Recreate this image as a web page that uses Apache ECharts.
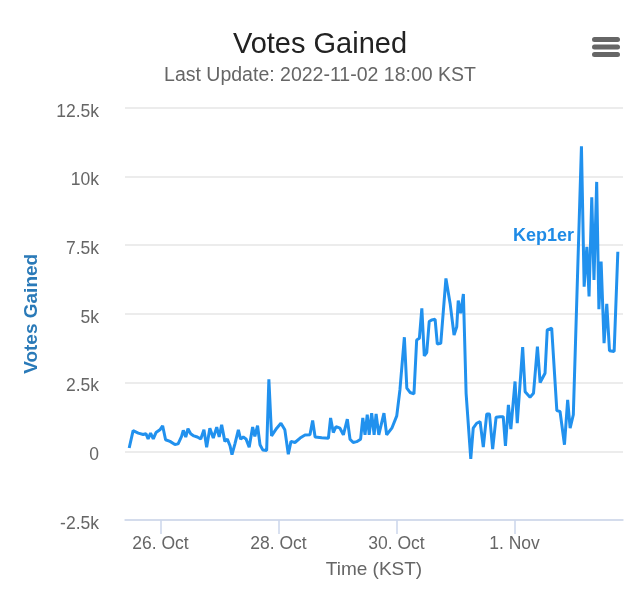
<!DOCTYPE html>
<html>
<head>
<meta charset="utf-8">
<script src="https://cdn.jsdelivr.net/npm/echarts@6/dist/echarts.min.js"></script>
<style>
html,body{margin:0;padding:0;background:#fff;}
#chart{width:640px;height:609px;}
</style>
</head>
<body>
<div id="chart"></div>
<script>
// Hours since 2022-10-26 00:00 KST
const hours = [-12.7,-11.1,-9.0,-7.0,-5.9,-5.0,-4.0,-2.9,-1.8,-0.2,0.9,2.1,3.9,5.9,7.2,8.6,9.3,10.3,11.2,12.3,13.6,15.0,16.4,17.7,18.8,20.1,21.5,22.9,23.9,24.9,26.2,27.2,28.3,29.1,30.3,31.7,32.6,33.7,34.8,36.1,37.5,38.4,39.5,40.5,41.6,43.2,44.1,45.2,47.3,49.0,50.6,52.0,53.1,54.7,56.8,58.8,60.8,61.9,62.9,65.6,68.3,69.2,70.3,71.4,73.0,74.4,76.0,77.1,78.4,79.8,81.4,82.3,83.2,84.1,84.9,85.9,86.9,87.7,88.8,89.6,90.9,92.0,94.1,96.1,97.4,99.2,100.2,101.5,103.1,104.2,105.3,106.3,107.3,108.3,109.3,110.3,111.7,112.6,114.0,116.1,117.8,119.4,120.5,121.1,122.1,123.2,124.3,126.2,127.2,128.6,130.0,131.3,132.7,133.8,135.1,136.5,138.1,139.4,140.3,141.5,142.5,144.2,145.1,147.3,148.3,150.3,151.7,153.3,154.4,156.4,157.3,159.1,161.2,162.5,164.3,165.6,166.6,167.9,171.2,172.3,173.4,174.3,175.4,176.3,177.4,178.3,179.2,180.4,181.5,182.6,184.5,186.0];
const votes = [120,750,660,610,640,450,660,450,680,780,930,420,360,250,270,540,760,520,820,640,560,520,450,780,150,840,480,880,520,960,360,440,200,-120,270,780,440,520,450,150,880,540,930,240,50,30,2620,560,840,1020,780,-110,360,320,480,590,600,1120,520,490,470,1210,680,900,840,600,1170,440,320,350,440,1210,600,1330,600,1390,600,1360,600,600,1390,600,840,1290,2240,4150,2300,2140,2090,4050,4110,5200,3470,3590,4720,4780,4800,3900,3930,6290,5380,4230,4530,5480,5020,5720,2110,-280,840,1020,1080,150,1360,1360,80,1240,1260,1260,200,1690,810,2540,1020,3790,2170,1970,2110,3810,2500,2840,4420,4480,1480,1450,240,1870,840,1330,11100,5990,7440,5630,9240,6230,9800,5170,6900,3930,5360,3660,3630,7260];
const xTickHours = [0, 48, 96, 144];
const xTickLabels = ['26. Oct', '28. Oct', '30. Oct', '1. Nov'];
const yTickLabels = {'-2500':'-2.5k','0':'0','2500':'2.5k','5000':'5k','7500':'7.5k','10000':'10k','12500':'12.5k'};
const seriesName = 'Kep1er';
const labelAt = [155.8, 7830];

const chart = echarts.init(document.getElementById('chart'), null, {renderer:'canvas'});
const FONT = 'Liberation Sans, Arial, Helvetica, sans-serif';
chart.setOption({
  animation:false,
  backgroundColor:'#ffffff',
  title:{
    text:'Votes Gained',
    subtext:'Last Update: 2022-11-02 18:00 KST',
    left:'center', top:25,
    itemGap:7,
    textStyle:{fontFamily:FONT,fontSize:29,fontWeight:'normal',color:'#222'},
    subtextStyle:{fontFamily:FONT,fontSize:19.5,color:'#666'}
  },
  graphic:[
    {type:'rect',left:592,top:37,shape:{width:28,height:5,r:2.5},style:{fill:'#666'}},
    {type:'rect',left:592,top:44.5,shape:{width:28,height:5,r:2.5},style:{fill:'#666'}},
    {type:'rect',left:592,top:52,shape:{width:28,height:5,r:2.5},style:{fill:'#666'}}
  ],
  grid:{left:125,right:17,top:107.7,bottom:89,containLabel:false},
  xAxis:{
    type:'value',
    min:-14.4, max:188.1,
    name:'Time (KST)', nameLocation:'middle', nameGap:40,
    nameTextStyle:{fontFamily:FONT,fontSize:19,color:'#666'},
    axisLine:{show:true,onZero:false,lineStyle:{color:'#ccd6eb',width:1.5}},
    axisTick:{show:true,length:14,lineStyle:{color:'#ccd6eb',width:1.5},customValues:xTickHours},
    axisLabel:{fontFamily:FONT,fontSize:17.5,color:'#666',margin:15,customValues:xTickHours,
      formatter:function(v){const i=xTickHours.indexOf(v);return i>=0?xTickLabels[i]:'';}},
    splitLine:{show:false}
  },
  yAxis:{
    type:'value',
    min:-2500, max:12500, interval:2500,
    name:'Votes Gained', nameLocation:'middle', nameGap:84, nameRotate:90,
    nameTextStyle:{fontFamily:FONT,fontSize:19,fontWeight:'bold',color:'#2a7ab8'},
    axisLine:{show:false}, axisTick:{show:false},
    axisLabel:{fontFamily:FONT,fontSize:17.5,color:'#666',margin:26,verticalAlign:'top',lineHeight:8,
      formatter:function(v){return yTickLabels[String(v)];}},
    splitLine:{show:true,lineStyle:{color:'#e6e6e6',width:1.5}}
  },
  series:[{
    name:seriesName,
    type:'line',
    data:hours.map((h,i)=>[h,votes[i]]),
    showSymbol:false,
    lineStyle:{color:'#2191ee',width:3},
    itemStyle:{color:'#2191ee'},
    markPoint:{
      symbol:'circle',
      symbolSize:1,
      itemStyle:{color:'rgba(0,0,0,0)'},
      data:[{coord:labelAt,value:seriesName}],
      label:{show:true,formatter:seriesName,fontFamily:FONT,fontSize:18,fontWeight:'bold',color:'#1f8be6',position:'inside'}
    }
  }]
});
</script>
</body>
</html>
